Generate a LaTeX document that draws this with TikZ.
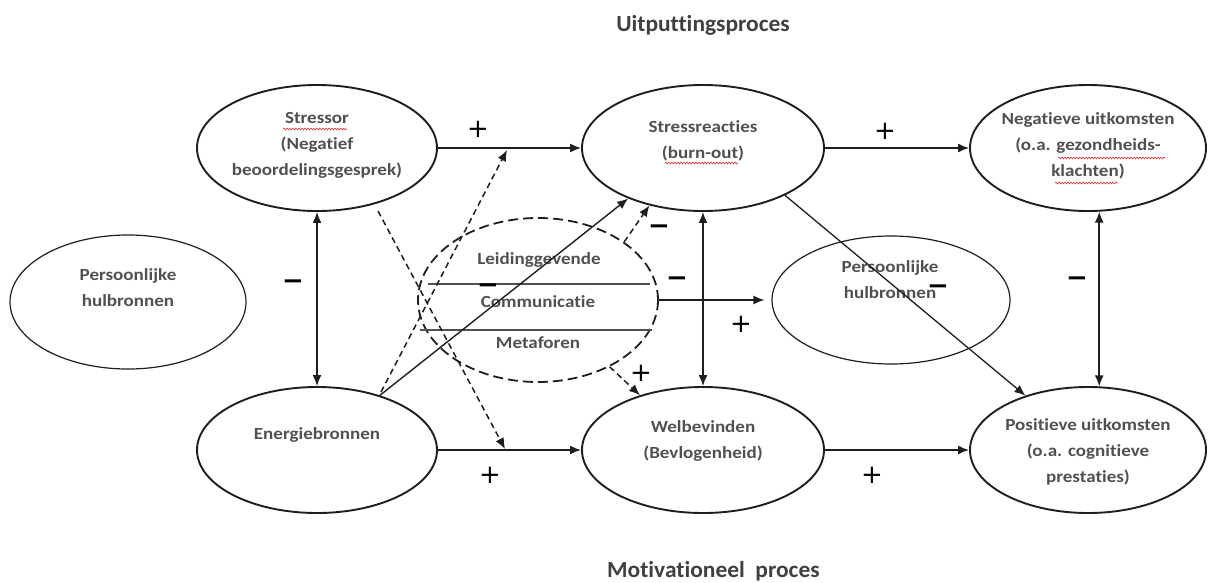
\documentclass[tikz,border=0pt]{standalone}
\usepackage{fontspec}
\setmainfont{Carlito}[FakeStretch=1.12, Ligatures={NoCommon}]
\newfontfamily\titlefont{Carlito}[FakeStretch=1.02, Ligatures={NoCommon}]
\newfontfamily\signfont{DejaVu Sans}
\usetikzlibrary{shapes.geometric,arrows.meta,decorations.pathmorphing}
\definecolor{textgray}{HTML}{505050}
\definecolor{titlegray}{HTML}{404040}
\definecolor{linegray}{HTML}{1E1E1E}
\definecolor{spellred}{HTML}{E03030}
\begin{document}
\begin{tikzpicture}[x=1pt,y=-1pt,
  ell/.style={draw=linegray, ellipse, line width=1.9pt, inner sep=0pt, minimum width=240pt, minimum height=126pt},
  ellthin/.style={draw=linegray, ellipse, line width=1.2pt, inner sep=0pt},
  medell/.style={draw=linegray, ellipse, line width=1.8pt, dash pattern=on 10pt off 5pt, inner sep=0pt, minimum width=240pt, minimum height=164pt},
  txt/.style={align=center, font=\fontsize{17}{26}\selectfont\bfseries, text=textgray, inner sep=0pt},
  ttl/.style={font=\titlefont\bfseries\fontsize{23}{23}\selectfont, text=titlegray, inner sep=0pt},
  tip/.style={-{Latex[length=11pt,width=9pt]}},
  arr/.style={draw=linegray, line width=1.6pt, tip},
  dbl/.style={draw=linegray, line width=1.6pt, {Latex[length=11pt,width=9pt]}-{Latex[length=11pt,width=9pt]}},
  darr/.style={draw=linegray, line width=1.5pt, dash pattern=on 6pt off 4pt, tip},
  chord/.style={draw=textgray, line width=1.2pt},
  squiggle/.style={draw=spellred, line width=0.6pt, decorate, decoration={snake, amplitude=0.9pt, segment length=3pt}},
  plussign/.style={font=\signfont\fontsize{26}{26}\selectfont, text=black, inner sep=0pt},
  minsign/.style={font=\signfont\bfseries\fontsize{26}{26}\selectfont, text=black, inner sep=0pt}]
\useasboundingbox (0,0) rectangle (1209,582);

% titles
\node[ttl, anchor=base] (t1) at (703,31) {Uitputtingsproces};
\node[ttl, anchor=base west] (t2) at (607,577) {Motivationeel\ \ proces};

% ellipses
\node[ell] (stressor) at (317,148) {};
\node[ell, minimum width=242pt] (sreact) at (703,148) {};
\node[ell, minimum width=236pt] (neg) at (1088,148) {};
\node[ellthin, minimum width=236pt, minimum height=134pt] (pers1) at (128,302) {};
\node[ellthin, minimum width=238pt, minimum height=128pt] (pers2) at (891,300) {};
\node[ell] (energie) at (317,450) {};
\node[ell, minimum width=242pt] (wel) at (703,450) {};
\node[ell, minimum width=236pt] (pos) at (1088,450) {};
\node[medell] (med) at (538,300) {};

% texts
\node[txt] (stressor-t) at (317,145) {Stressor\\(Negatief\\beoordelingsgesprek)};
\node[txt] (sreact-t) at (703,141) {Stressreacties\\(burn-out)};
\node[txt] (neg-t) at (1088,146) {Negatieve uitkomsten\\(o.a. gezondheids-\\klachten)};
\node[txt] (pers1-t) at (128,288) {Persoonlijke\\hulbronnen};
\node[txt] (pers2-t) at (890,280) {Persoonlijke\\hulbronnen};
\node[txt] (energie-t) at (317,435) {Energiebronnen};
\node[txt] (wel-t) at (703,441) {Welbevinden\\(Bevlogenheid)};
\node[txt] (pos-t) at (1088,452) {Positieve uitkomsten\\(o.a. cognitieve\\prestaties)};
\node[txt] (med-t1) at (539,260) {Leidinggevende};
\node[txt] (med-t2) at (538,302) {Communicatie};
\node[txt] (med-t3) at (538,343) {Metaforen};

% spell-check squiggles
\draw[squiggle] (283,129) -- (347,129);
\draw[squiggle] (665,163) -- (738,163);
\draw[squiggle] (1058,158) -- (1165,158);
\draw[squiggle] (1055,183) -- (1118,183);

% chords in mediator
\draw[chord] (428,284) -- (650,284);
\draw[chord] (420,330) -- (652,330);

% main arrows
\draw[arr] (stressor.east) -- (sreact.west);
\draw[arr] (sreact.east) -- (neg.west);
\draw[arr] (energie.east) -- (wel.west);
\draw[arr] (wel.east) -- (pos.west);
\draw[dbl] (stressor.south) -- (energie.north);
\draw[dbl] (sreact.south) -- (wel.north);
\draw[dbl] (neg.-80) -- (pos.80);
\draw[arr, line width=1.4pt] (energie.41) -- (sreact.214);
\draw[arr, line width=1.3pt] (sreact.-30) -- (pos.139);
\draw[arr, line width=1.4pt, shorten >=7pt] (med.east) -- (pers2.west);

% dashed moderation arrows
\coordinate (d1s) at (378,211);
\coordinate (d1e) at (505,449);
\coordinate (d2s) at (381,392);
\coordinate (d2e) at (507,150);
\draw[darr] (d1s) -- (d1e);
\draw[darr] (d2s) -- (d2e);
\draw[darr] (med.34) -- (sreact.227);
\draw[darr] (med.-43) -- (wel.139);

% signs
\node[plussign] (p1) at (478,129) {+};
\node[plussign] (p2) at (885,131) {+};
\node[plussign] (p3) at (490,475) {+};
\node[plussign] (p4) at (872,475) {+};
\node[plussign] (p5) at (741,324) {+};
\node[plussign] (p6) at (641,373) {+};
\node[minsign] (m1) at (293,285) {−};
\node[minsign] (m2) at (488,289) {−};
\node[minsign] (m3) at (659,230) {−};
\node[minsign] (m4) at (677,282) {−};
\node[minsign] (m5) at (938,290) {−};
\node[minsign] (m6) at (1077,282) {−};
\end{tikzpicture}
\end{document}
